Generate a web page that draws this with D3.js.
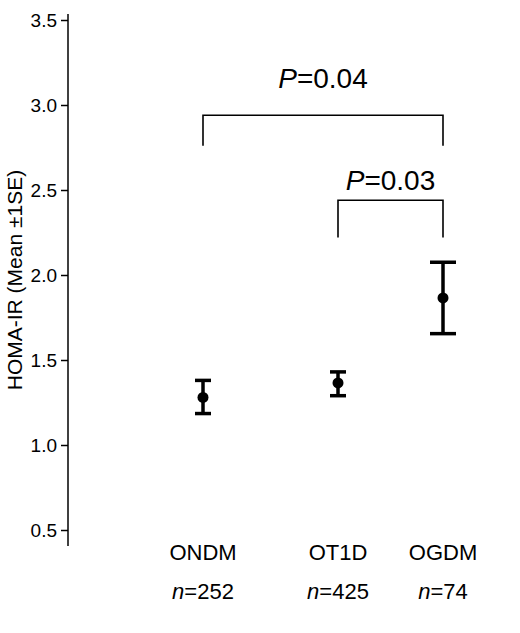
<!DOCTYPE html>
<html><head><meta charset="utf-8">
<script src="https://cdn.jsdelivr.net/npm/d3@7"></script>
<style>body{margin:0;background:#fff}text{font-family:"Liberation Sans",Arial,sans-serif}</style>
</head><body><svg id="c" width="520" height="633"></svg>
<script>
const categories=["ONDM","OT1D","OGDM"];
const nLabels=["252","425","74"];
const means=[1.28,1.365,1.865];
const lower=[1.185,1.29,1.655];
const upper=[1.38,1.43,2.075];
const yTicks=[0.5,1.0,1.5,2.0,2.5,3.0,3.5];
const comparisons=[{a:0,b:2,p:"0.04",y:2.94,drop:2.76,ty:3.1},{a:1,b:2,p:"0.03",y:2.44,drop:2.22,ty:2.5}];

const svg=d3.select("#c");
const y=d3.scaleLinear().domain([0.5,3.5]).range([530,20]);
const xPos=[203,338,443];
const xs=d3.scaleOrdinal().domain(categories).range(xPos);

const ax=svg.append("g").attr("transform","translate(68,0)")
 .call(d3.axisLeft(y).tickValues(yTicks).tickFormat(d3.format(".1f")).tickSize(7).tickSizeOuter(0));
ax.select(".domain").attr("d","M0,14V546").attr("stroke","#000").attr("stroke-width",1.5);
ax.selectAll(".tick line").attr("stroke-width",1.5);
ax.selectAll(".tick text").attr("font-size",19).attr("x",-11);

svg.append("text").attr("transform","translate(22,280) rotate(-90)").attr("text-anchor","middle")
 .attr("font-size",21).text("HOMA-IR (Mean ±1SE)");

categories.forEach((c,i)=>{
 const cx=xs(c);
 const g=svg.append("g").attr("stroke","#000").attr("stroke-width",3.5);
 const w=i==2?13:8;
 g.append("line").attr("x1",cx).attr("x2",cx).attr("y1",y(lower[i])).attr("y2",y(upper[i]));
 g.append("line").attr("x1",cx-w).attr("x2",cx+w).attr("y1",y(lower[i])).attr("y2",y(lower[i]));
 g.append("line").attr("x1",cx-w).attr("x2",cx+w).attr("y1",y(upper[i])).attr("y2",y(upper[i]));
 svg.append("circle").attr("cx",cx).attr("cy",y(means[i])).attr("r",5.5);
 svg.append("text").attr("x",cx).attr("y",560).attr("text-anchor","middle").attr("font-size",22).text(c);
 const t=svg.append("text").attr("x",cx).attr("y",599).attr("text-anchor","middle").attr("font-size",22);
 t.append("tspan").attr("font-style","italic").text("n");
 t.append("tspan").text("="+nLabels[i]);
});

comparisons.forEach(cm=>{
 const x1=xPos[cm.a],x2=xPos[cm.b];
 svg.append("path").attr("fill","none").attr("stroke","#000").attr("stroke-width",1.6)
  .attr("d",`M${x1},${y(cm.drop)}V${y(cm.y)}H${x2}V${y(cm.drop)}`);
 const t=svg.append("text").attr("x",(x1+x2)/2).attr("y",y(cm.ty)).attr("text-anchor","middle").attr("font-size",28);
 t.append("tspan").attr("font-style","italic").text("P");
 t.append("tspan").text("="+cm.p);
});
</script></body></html>
